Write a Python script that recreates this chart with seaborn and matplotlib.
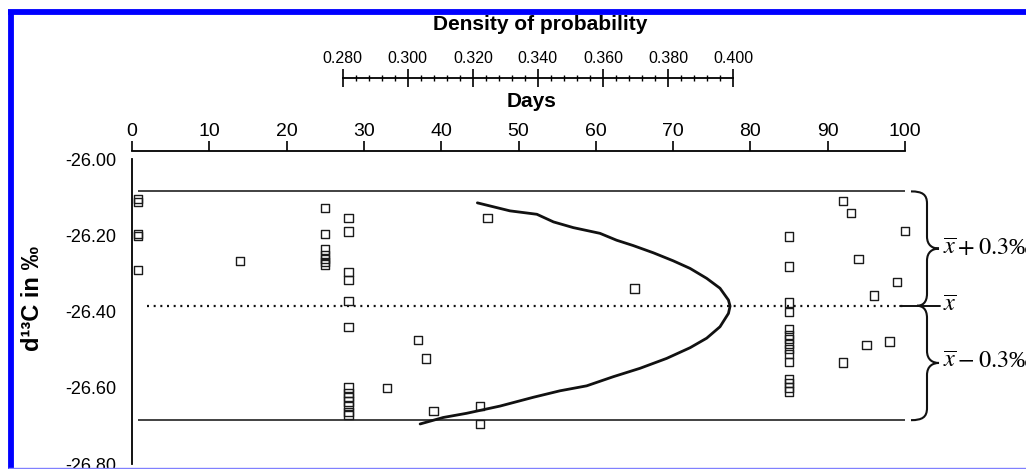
import numpy as np
import pandas as pd
import matplotlib
matplotlib.use("Agg")
import matplotlib.pyplot as plt
import seaborn as sns
from matplotlib.path import Path
from matplotlib.patches import PathPatch
from matplotlib.lines import Line2D
from matplotlib.ticker import FixedLocator, FormatStrFormatter

# ---------------- data ----------------
sample_days = [0.8, 0.8, 0.8, 0.8, 0.8,
               14,
               25, 25, 25, 25, 25, 25, 25,
               28, 28, 28, 28, 28, 28, 28, 28, 28, 28, 28, 28, 28,
               33, 37, 38, 39, 45, 45, 46, 65,
               85, 85, 85, 85, 85, 85, 85, 85, 85, 85, 85, 85, 85, 85, 85,
               92, 93, 100, 94, 99, 96, 98, 95, 92]
sample_d13c = [-26.105, -26.113, -26.196, -26.202, -26.291,
               -26.267,
               -26.129, -26.197, -26.237, -26.252, -26.262, -26.270, -26.277,
               -26.155, -26.190, -26.296, -26.318, -26.372, -26.440, -26.599,
               -26.613, -26.624, -26.636, -26.648, -26.664, -26.672,
               -26.601, -26.475, -26.523, -26.661, -26.647, -26.695, -26.155, -26.340,
               -26.203, -26.282, -26.376, -26.402, -26.446, -26.461, -26.473,
               -26.486, -26.498, -26.511, -26.533, -26.577, -26.588, -26.599, -26.610,
               -26.110, -26.141, -26.189, -26.262, -26.323, -26.358, -26.479, -26.487, -26.534]

curve_density = [0.3214, 0.3314, 0.3397, 0.3448, 0.3509, 0.3591, 0.3642, 0.3693,
                 0.3755, 0.3816, 0.3868, 0.3919, 0.3960, 0.3986, 0.3991, 0.3986,
                 0.3960, 0.3919, 0.3868, 0.3796, 0.3714, 0.3632, 0.3550, 0.3468,
                 0.3386, 0.3284, 0.3181, 0.3109, 0.3038]
curve_d13c = [-26.115, -26.136, -26.145, -26.165, -26.180, -26.195, -26.213, -26.227,
              -26.246, -26.267, -26.287, -26.313, -26.339, -26.370, -26.386, -26.405,
              -26.440, -26.470, -26.495, -26.523, -26.549, -26.571, -26.595, -26.608,
              -26.625, -26.648, -26.667, -26.678, -26.695]

mean_d13c = -26.385
band = 0.3

day_ticks = list(range(0, 101, 10))
density_ticks = [0.280, 0.300, 0.320, 0.340, 0.360, 0.380, 0.400]
density_minor = [0.280 + 0.004 * i for i in range(31)]
y_ticks = [-26.00, -26.20, -26.40, -26.60, -26.80]

# ---------------- layout ----------------
W, H, DPI = 1026, 469, 100
sns.set_style("white")
plt.rcParams["font.family"] = ["Liberation Sans", "DejaVu Sans"]
plt.rcParams["axes.edgecolor"] = "black"
plt.rcParams["text.color"] = "black"
plt.rcParams["xtick.color"] = "black"
plt.rcParams["ytick.color"] = "black"
plt.rcParams["axes.labelcolor"] = "black"

fig = plt.figure(figsize=(W / DPI, H / DPI), dpi=DPI)
ax = fig.add_axes([132 / W, 5 / H, 773 / W, 305 / H])
ax.patch.set_alpha(0)

# density axis (twin) - its top spine shown above the Days axis
ax2 = ax.twiny()
dens_day0, dens_day1 = 27.26, 77.75   # days positions of 0.280 and 0.400
k = (0.40 - 0.28) / (dens_day1 - dens_day0)
ax2.set_xlim(0.28 - dens_day0 * k, 0.28 + (100 - dens_day0) * k)
for s in ["bottom", "left", "right"]:
    ax2.spines[s].set_visible(False)
ax2.spines["top"].set_position(("outward", 58.3))
ax2.spines["top"].set_bounds(0.28, 0.40)
ax2.spines["top"].set_linewidth(1.3)
ax2.xaxis.set_major_locator(FixedLocator(density_ticks))
ax2.xaxis.set_minor_locator(FixedLocator(density_minor))
ax2.xaxis.set_major_formatter(FormatStrFormatter("%.3f"))
ax2.tick_params(axis="x", which="major", direction="inout", length=13, width=1.2,
                labelsize=11.5, pad=2)
ax2.tick_params(axis="x", which="minor", direction="inout", length=5, width=1.0)
ax2.set_xlabel("Density of probability", fontsize=15, fontweight="bold", labelpad=15)
ax2.xaxis.label.set_x((540 - 132) / 773)

curve_df = pd.DataFrame({"density": curve_density, "d13c": curve_d13c})
sns.lineplot(data=curve_df, x="density", y="d13c", ax=ax2, sort=False,
             estimator=None, color="#111111", linewidth=2.0, zorder=5)
ax2.set_ylim(-26.8, -26.0)

# main axis
ax.set_xlim(0, 100)
ax.set_ylim(-26.8, -26.0)
ax.xaxis.tick_top()
ax.xaxis.set_label_position("top")
ax.xaxis.set_major_locator(FixedLocator(day_ticks))
ax.tick_params(axis="x", which="major", direction="out", length=7, width=1.2,
               pad=0.5, labelsize=14, top=True, bottom=False, labeltop=True,
               labelbottom=False)
ax.spines["top"].set_position(("outward", 6))
ax.spines["top"].set_bounds(0, 100)
ax.spines["top"].set_linewidth(1.3)
ax.spines["left"].set_linewidth(1.3)
ax.spines["bottom"].set_visible(False)
ax.spines["right"].set_visible(False)
ax.yaxis.set_major_locator(FixedLocator(y_ticks))
ax.yaxis.set_major_formatter(FormatStrFormatter("%.2f"))
ax.tick_params(axis="y", direction="out", length=6, width=1.2, labelsize=13, pad=5.5)

# reference lines
ax.hlines([mean_d13c + band, mean_d13c - band], 0.8, 100, color="#333333", lw=1.3, zorder=2)
ax.hlines(mean_d13c, 2, 100, color="#111111", lw=1.6, linestyles=(0, (0.9, 2.1)), zorder=2)

# samples
df = pd.DataFrame({"day": sample_days, "d13c": sample_d13c})
sns.scatterplot(data=df, x="day", y="d13c", ax=ax, marker="s", s=36,
                facecolors="none", edgecolor="#1a1a1a", linewidth=1.0,
                zorder=4, clip_on=False)
ax.set_xlabel("Days", fontsize=15, fontweight="bold", labelpad=11.5)
ax.xaxis.label.set_x((532 - 132) / 773)
ax.set_ylabel("d\u00b9\u00b3C in \u2030", fontsize=17, fontweight="bold")
ax.yaxis.set_label_coords((32.5 - 132) / 773, (464 - 298.5) / 305)
ax.yaxis.label.set_va("center")

# braces on the right
tr = ax.get_yaxis_transform()
px = lambda p: (p - 132) / 773.0
xh, xm, xv, xt = px(911), px(917), px(927), px(939)


def half_brace(ya, yb, xa, xb):
    ymid = (ya + yb) / 2
    verts = [(xa, ya),
             (xv - 0.006, ya), (xv, ya - 0.008), (xv, ya - 0.032),
             (xv, ymid + 0.032),
             (xv, ymid + 0.008), (xt - 0.008, ymid), (xt, ymid),
             (xt - 0.008, ymid), (xv, ymid - 0.008), (xv, ymid - 0.032),
             (xv, yb + 0.032),
             (xv, yb + 0.008), (xv - 0.006, yb), (xb, yb)]
    codes = [Path.MOVETO] + [Path.CURVE4] * 3 + [Path.LINETO] + [Path.CURVE4] * 6 + \
            [Path.LINETO] + [Path.CURVE4] * 3
    return Path(verts, codes)


for ya, yb, xa, xb in [(mean_d13c + band, mean_d13c, xh, xm),
                       (mean_d13c, mean_d13c - band, xm, xh)]:
    ax.add_patch(PathPatch(half_brace(ya, yb, xa, xb), transform=tr, fill=False,
                           lw=1.5, edgecolor="#111111", clip_on=False))
ax.add_line(Line2D([px(900), px(940)], [mean_d13c, mean_d13c], transform=tr,
                   color="#111111", lw=1.4, clip_on=False))

serif = ["Liberation Serif", "DejaVu Serif"]
tx = px(943)
ax.text(tx, mean_d13c + band / 2, r"$\overline{x}+0.3$" + "\u2030", transform=tr,
        ha="left", va="center", fontsize=17.5, family=serif, math_fontfamily="stix")
ax.text(tx, mean_d13c, r"$\overline{x}$", transform=tr, ha="left", va="center",
        fontsize=17.5, family=serif, math_fontfamily="stix")
ax.text(tx, mean_d13c - band / 2, r"$\overline{x}-0.3$" + "\u2030", transform=tr,
        ha="left", va="center", fontsize=17.5, family=serif, math_fontfamily="stix")

# blue frame of the original figure
fig.add_artist(Line2D([8 / W, 1], [1 - 12.3 / H, 1 - 12.3 / H], color="#0000ff", lw=4.2,
                      solid_capstyle="butt", zorder=20))
fig.add_artist(Line2D([10.5 / W, 10.5 / W], [0, 1 - 10 / H], color="#0000ff", lw=4.2,
                      solid_capstyle="butt", zorder=20))
fig.add_artist(Line2D([8 / W, 1], [1.5 / H, 1.5 / H], color="#8080ff", lw=1.0,
                      solid_capstyle="butt", zorder=20))

fig.savefig("out.png", dpi=DPI)
